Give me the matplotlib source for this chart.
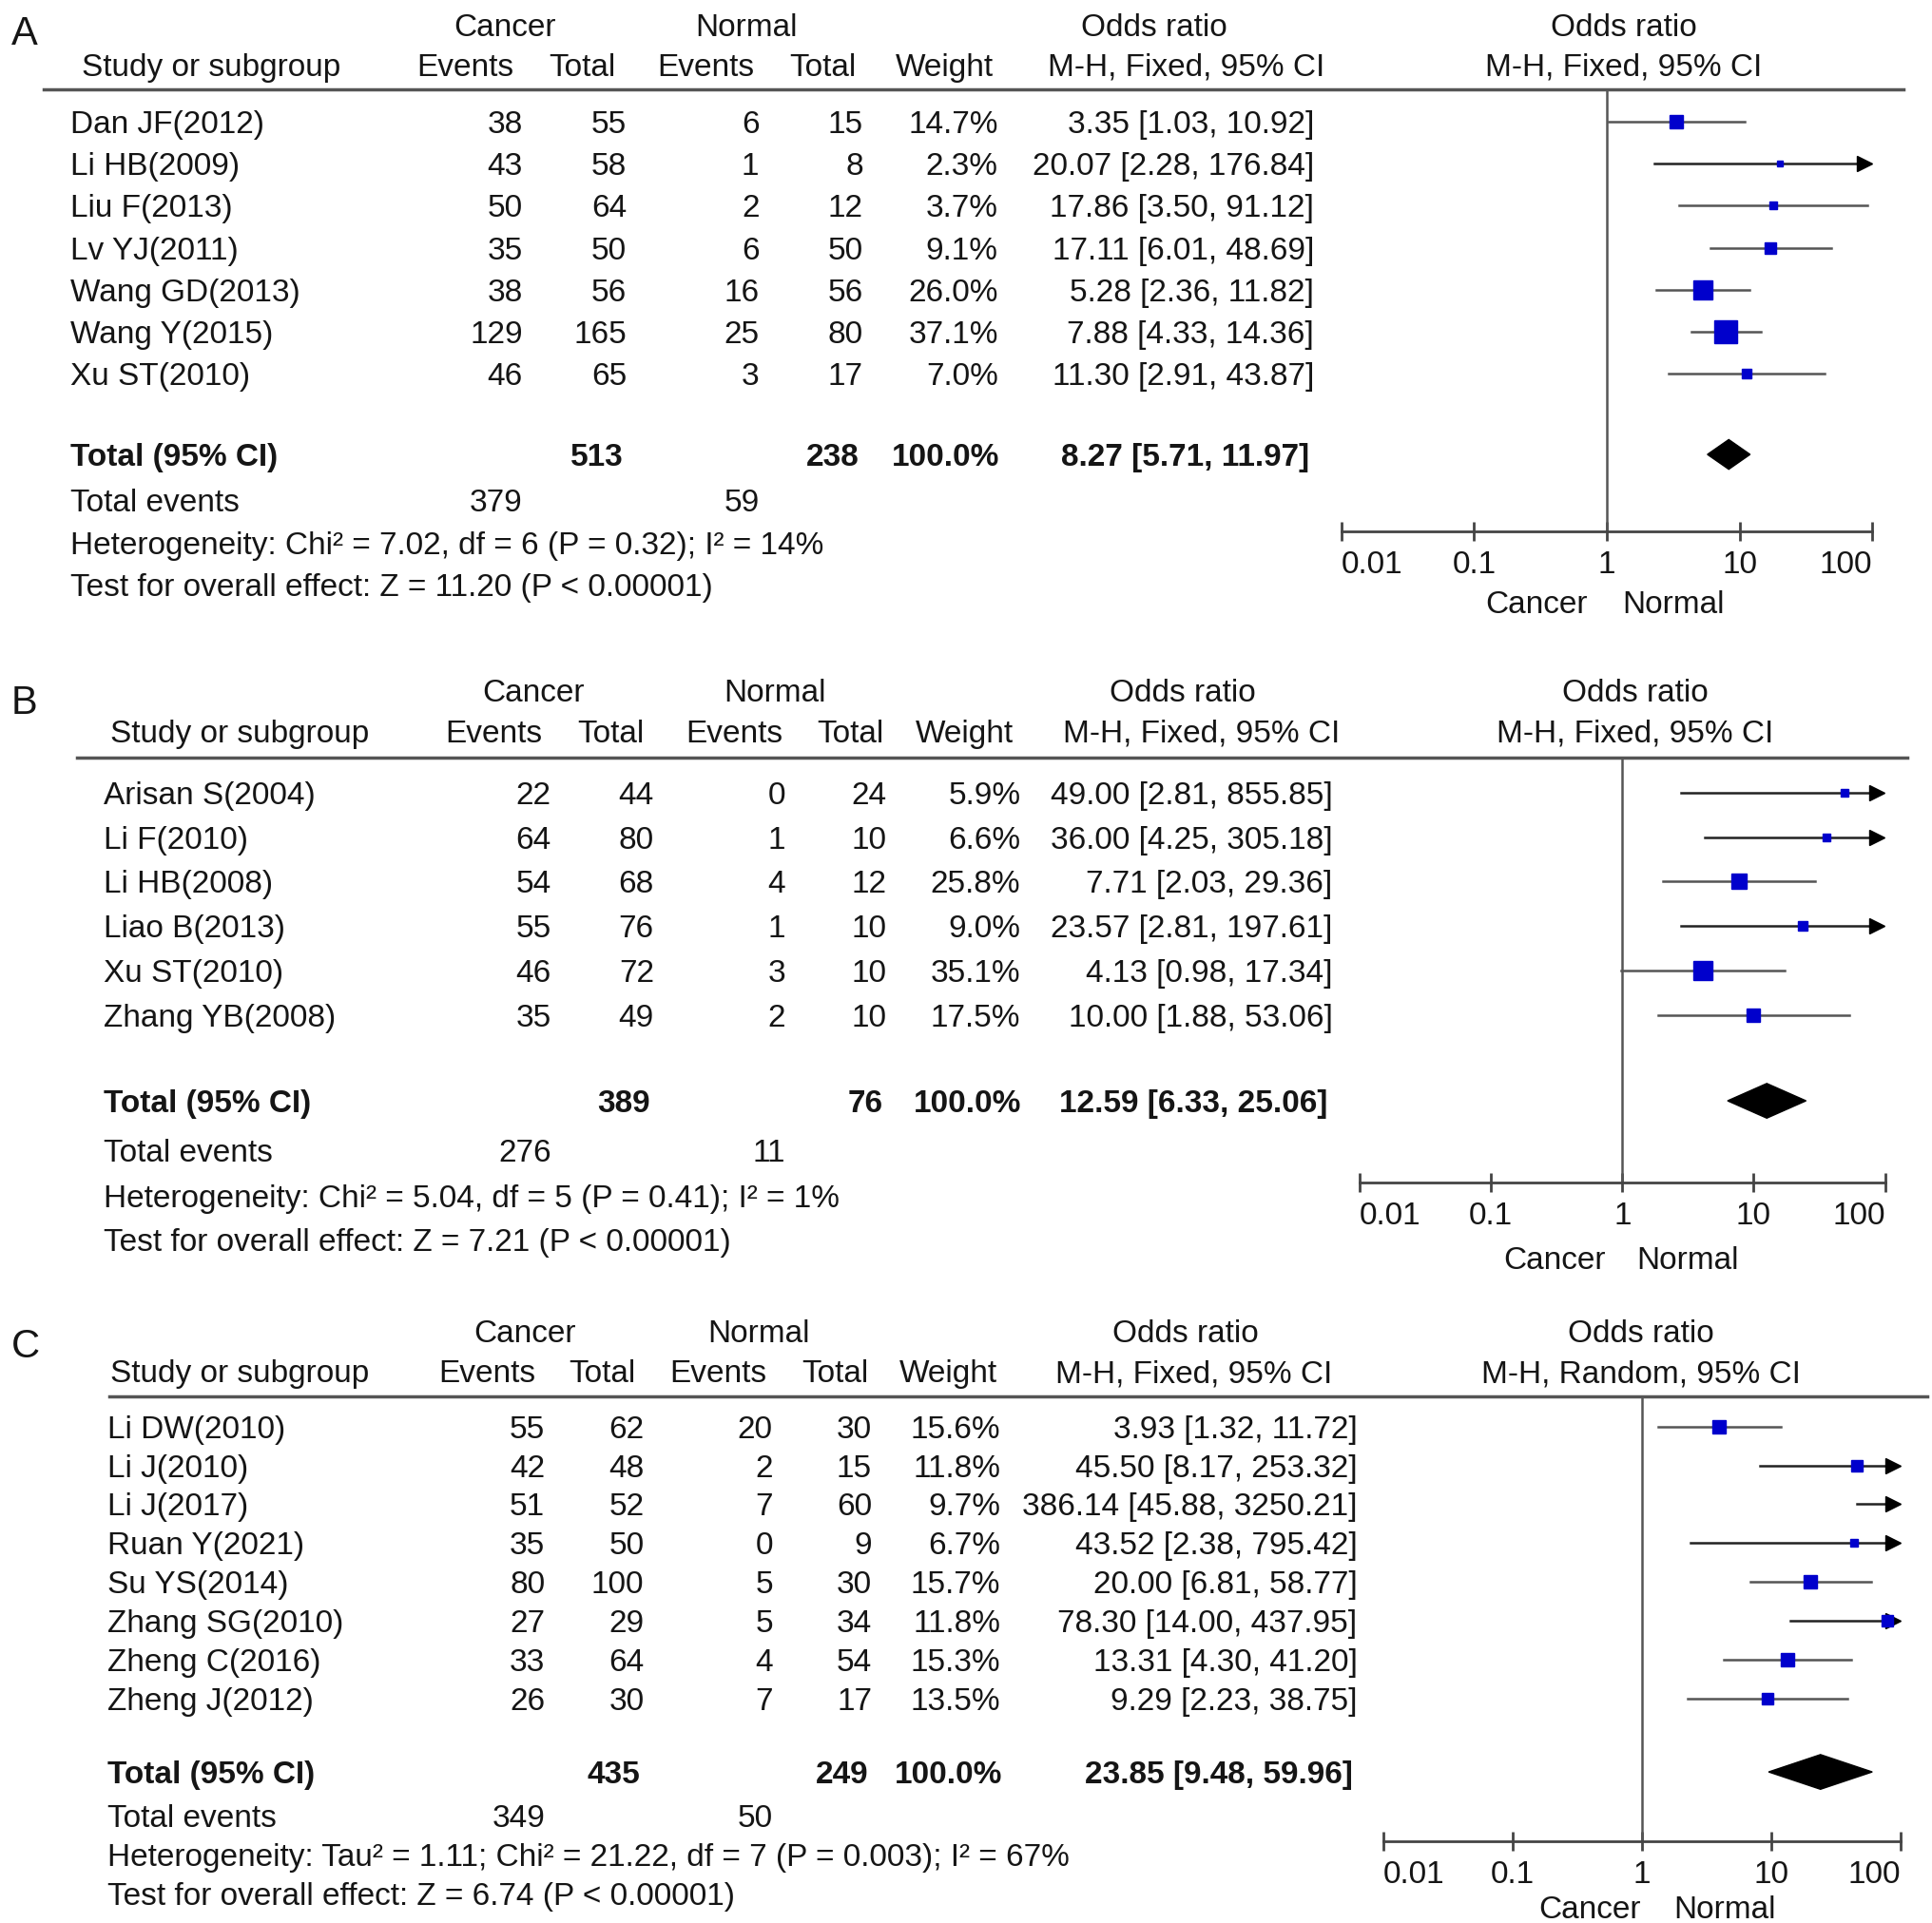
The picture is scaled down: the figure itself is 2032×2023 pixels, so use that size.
import matplotlib.pyplot as plt
from matplotlib.patches import Polygon

plt.rcParams['font.family'] = ['Liberation Sans', 'DejaVu Sans']

# layout is measured in a 1560 x 1553 grid (reference scaled down)
W, H = 1560, 1553
FS = 24

# ---------------- data ----------------
a_study = ['Dan JF(2012)', 'Li HB(2009)', 'Liu F(2013)', 'Lv YJ(2011)',
           'Wang GD(2013)', 'Wang Y(2015)', 'Xu ST(2010)']
a_c_ev = [38, 43, 50, 35, 38, 129, 46]
a_c_tot = [55, 58, 64, 50, 56, 165, 65]
a_n_ev = [6, 1, 2, 6, 16, 25, 3]
a_n_tot = [15, 8, 12, 50, 56, 80, 17]
a_weight = [14.7, 2.3, 3.7, 9.1, 26.0, 37.1, 7.0]
a_or = [3.35, 20.07, 17.86, 17.11, 5.28, 7.88, 11.30]
a_lo = [1.03, 2.28, 3.50, 6.01, 2.36, 4.33, 2.91]
a_hi = [10.92, 176.84, 91.12, 48.69, 11.82, 14.36, 43.87]
a_total = [513, 238, 8.27, 5.71, 11.97]
a_events = [379, 59]
a_het = 'Heterogeneity: Chi² = 7.02, df = 6 (P = 0.32); I² = 14%'
a_test = 'Test for overall effect: Z = 11.20 (P < 0.00001)'

b_study = ['Arisan S(2004)', 'Li F(2010)', 'Li HB(2008)', 'Liao B(2013)',
           'Xu ST(2010)', 'Zhang YB(2008)']
b_c_ev = [22, 64, 54, 55, 46, 35]
b_c_tot = [44, 80, 68, 76, 72, 49]
b_n_ev = [0, 1, 4, 1, 3, 2]
b_n_tot = [24, 10, 12, 10, 10, 10]
b_weight = [5.9, 6.6, 25.8, 9.0, 35.1, 17.5]
b_or = [49.00, 36.00, 7.71, 23.57, 4.13, 10.00]
b_lo = [2.81, 4.25, 2.03, 2.81, 0.98, 1.88]
b_hi = [855.85, 305.18, 29.36, 197.61, 17.34, 53.06]
b_total = [389, 76, 12.59, 6.33, 25.06]
b_events = [276, 11]
b_het = 'Heterogeneity: Chi² = 5.04, df = 5 (P = 0.41); I² = 1%'
b_test = 'Test for overall effect: Z = 7.21 (P < 0.00001)'

c_study = ['Li DW(2010)', 'Li J(2010)', 'Li J(2017)', 'Ruan Y(2021)',
           'Su YS(2014)', 'Zhang SG(2010)', 'Zheng C(2016)', 'Zheng J(2012)']
c_c_ev = [55, 42, 51, 35, 80, 27, 33, 26]
c_c_tot = [62, 48, 52, 50, 100, 29, 64, 30]
c_n_ev = [20, 2, 7, 0, 5, 5, 4, 7]
c_n_tot = [30, 15, 60, 9, 30, 34, 54, 17]
c_weight = [15.6, 11.8, 9.7, 6.7, 15.7, 11.8, 15.3, 13.5]
c_or = [3.93, 45.50, 386.14, 43.52, 20.00, 78.30, 13.31, 9.29]
c_lo = [1.32, 8.17, 45.88, 2.38, 6.81, 14.00, 4.30, 2.23]
c_hi = [11.72, 253.32, 3250.21, 795.42, 58.77, 437.95, 41.20, 38.75]
c_total = [435, 249, 23.85, 9.48, 59.96]
c_events = [349, 50]
c_het = 'Heterogeneity: Tau² = 1.11; Chi² = 21.22, df = 7 (P = 0.003); I² = 67%'
c_test = 'Test for overall effect: Z = 6.74 (P < 0.00001)'

ticks = [0.01, 0.1, 1, 10, 100]
tick_labels = ['0.01', '0.1', '1', '10', '100']

fig = plt.figure(figsize=(20.32, 20.23), dpi=100)
bg = fig.add_axes([0, 0, 1, 1])
bg.set_xlim(0, W)
bg.set_ylim(H, 0)
bg.axis('off')


def txt(x, y, s, ha='left', **kw):
    bg.text(x, y, s, ha=ha, va='center_baseline', fontsize=kw.pop('fs', FS),
            color='#151515', **kw)


def panel(L, letter, study, c_ev, c_tot, n_ev, n_tot, weight, orr, lo, hi,
          total, events, het, test, method):
    txt(L['letter'][0], L['letter'][1], letter, fs=30)
    y1, y2 = L['head']
    txt(L['hc'][0], y1, 'Cancer', ha='center')
    txt(L['hc'][1], y1, 'Normal', ha='center')
    txt(L['hc'][2], y1, 'Odds ratio', ha='center')
    txt(L['fc'], y1, 'Odds ratio', ha='center')
    txt(L['sx'], y2, 'Study or subgroup')
    for x, s in zip(L['hc2'], ['Events', 'Total', 'Events', 'Total',
                               'Weight', 'M-H, Fixed, 95% CI']):
        txt(x, y2, s, ha='center')
    txt(L['fc'], y2, method, ha='center')
    bg.plot(L['line'], [L['ly'], L['ly']], color='#555555', lw=2.5)

    rc = L['cols']
    for i, name in enumerate(study):
        y = L['rows'][0] + i * L['rows'][1]
        txt(L['name'], y, name)
        vals = [str(c_ev[i]), str(c_tot[i]), str(n_ev[i]), str(n_tot[i]),
                f'{weight[i]:.1f}%', f'{orr[i]:.2f} [{lo[i]:.2f}, {hi[i]:.2f}]']
        for x, s in zip(rc, vals):
            txt(x, y, s, ha='right')
    yt = L['tot']
    txt(L['name'], yt, 'Total (95% CI)', weight='bold')
    txt(rc[1] - 3, yt, str(total[0]), ha='right', weight='bold')
    txt(rc[3] - 3, yt, str(total[1]), ha='right', weight='bold')
    txt(rc[4] + 1, yt, '100.0%', ha='right', weight='bold')
    txt(rc[5] - 4, yt, f'{total[2]:.2f} [{total[3]:.2f}, {total[4]:.2f}]',
        ha='right', weight='bold')
    txt(L['name'], L['ev'], 'Total events')
    txt(rc[0], L['ev'], str(events[0]), ha='right')
    txt(rc[2], L['ev'], str(events[1]), ha='right')
    txt(L['name'], L['het'], het)
    txt(L['name'], L['het'] + L['tst'], test)

    # forest plot
    x0, x1 = L['fx']
    ya = L['axis']
    ax = fig.add_axes([x0 / W, 1 - ya / H, (x1 - x0) / W, (ya - L['ly']) / H])
    ax.set_xscale('log')
    ax.set_xlim(0.01, 100)
    ax.set_ylim(ya, L['ly'])
    ax.patch.set_alpha(0)
    for s in ['top', 'left', 'right']:
        ax.spines[s].set_visible(False)
    ax.spines['bottom'].set_color('#444444')
    ax.spines['bottom'].set_linewidth(2)
    ax.set_yticks([])
    ax.set_xticks(ticks)
    ax.set_xticklabels(tick_labels)
    ax.minorticks_off()
    ax.tick_params(axis='x', direction='inout', length=15, width=2,
                   color='#444444', labelsize=FS, pad=7, labelcolor='#151515')
    lbls = ax.get_xticklabels()
    lbls[0].set_ha('left')
    lbls[-1].set_ha('right')
    ax.axvline(1, color='#555555', lw=1.8)
    for i in range(len(study)):
        y = L['rows'][0] + i * L['rows'][1]
        left = max(lo[i], 0.01)
        if hi[i] > 100:
            ax.plot([left, 95], [y, y], color='#222222', lw=1.8, clip_on=False)
            ax.plot([87], [y], marker='>', color='black', markersize=12,
                    clip_on=False)
        else:
            ax.plot([left, hi[i]], [y, y], color='#555555', lw=1.8)
        if orr[i] < 100:
            ax.plot([orr[i]], [y], marker='s', color='#0000cc', lw=0,
                    markersize=L['sq'] * weight[i] ** 0.5, clip_on=False)
    h = L['dh']
    ax.add_patch(Polygon([(total[3], yt), (total[2], yt - h), (total[4], yt),
                          (total[2], yt + h)], closed=True, color='black'))
    txt(L['cn'][0], L['cn'][2], 'Cancer', ha='center')
    txt(L['cn'][1], L['cn'][2], 'Normal', ha='center')


LA = dict(letter=(9, 24), head=(20, 52), hc=(408, 603, 932), fc=1311, sx=66,
          name=57, hc2=(376, 470, 570, 664, 763, 958), line=(35, 1537), ly=72,
          cols=(422, 506, 613, 697, 806, 1061), rows=(98, 34), tot=367,
          ev=404, het=438, tst=34, fx=(1083, 1512), axis=429, sq=2.8, dh=12,
          cn=(1241, 1351, 486))
LB = dict(letter=(9, 565), head=(557, 590), hc=(431, 626, 955), fc=1320, sx=89,
          name=84, hc2=(399, 493, 593, 687, 779, 970), line=(62, 1540), ly=612,
          cols=(445, 528, 634, 716, 824, 1076), rows=(640, 36), tot=889,
          ev=929, het=966, tst=35, fx=(1098, 1522), axis=955, sq=2.4, dh=14,
          cn=(1255, 1363, 1016))
LC = dict(letter=(9, 1084), head=(1075, 1107), hc=(424, 613, 957), fc=1325,
          sx=89, name=87, hc2=(393, 486, 580, 674, 766, 964), line=(88, 1556),
          ly=1128, cols=(440, 520, 624, 704, 808, 1096), rows=(1152, 31.4),
          tot=1431, ev=1466, het=1498, tst=31, fx=(1117, 1535), axis=1487,
          sq=2.5, dh=14, cn=(1284, 1393, 1540))

panel(LA, 'A', a_study, a_c_ev, a_c_tot, a_n_ev, a_n_tot, a_weight, a_or,
      a_lo, a_hi, a_total, a_events, a_het, a_test, 'M-H, Fixed, 95% CI')
panel(LB, 'B', b_study, b_c_ev, b_c_tot, b_n_ev, b_n_tot, b_weight, b_or,
      b_lo, b_hi, b_total, b_events, b_het, b_test, 'M-H, Fixed, 95% CI')
panel(LC, 'C', c_study, c_c_ev, c_c_tot, c_n_ev, c_n_tot, c_weight, c_or,
      c_lo, c_hi, c_total, c_events, c_het, c_test, 'M-H, Random, 95% CI')

fig.savefig('out.png', dpi=100)
